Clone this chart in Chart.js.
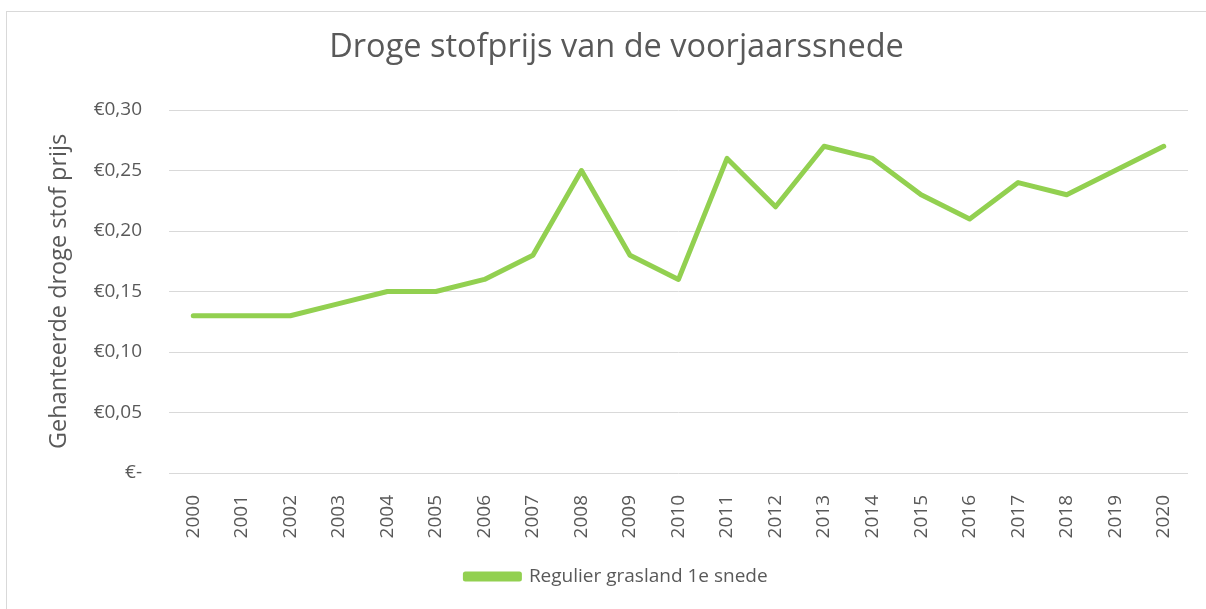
<!DOCTYPE html>
<html>
<head>
<meta charset="utf-8">
<script src="https://cdn.jsdelivr.net/npm/chart.js@4.4.0/dist/chart.umd.min.js"></script>
<style>
  html, body { margin: 0; padding: 0; background: #fff; }
  #frame { position: absolute; left: 6px; top: 11px; width: 1220px; height: 620px; border: 1px solid #d9d9d9; }
  #wrap { position: absolute; left: 0; top: 0; width: 1206px; height: 609px; }
</style>
</head>
<body>
<div id="frame"></div>
<div id="wrap"><canvas id="chart"></canvas></div>
<script>
const years = ["2000","2001","2002","2003","2004","2005","2006","2007","2008","2009","2010",
  "2011","2012","2013","2014","2015","2016","2017","2018","2019","2020"];
const prices = [0.13, 0.13, 0.13, 0.14, 0.15, 0.15, 0.16, 0.18, 0.25, 0.18, 0.16,
  0.26, 0.22, 0.27, 0.26, 0.23, 0.21, 0.24, 0.23, 0.25, 0.27];
const seriesName = "Regulier grasland 1e snede";
const titleText = "Droge stofprijs van de voorjaarssnede";
const yTitle = "Gehanteerde droge stof prijs";

const grey = "#595959";
const green = "#92D050";
const fontFam = "'Open Sans', sans-serif";

const ctx = document.getElementById("chart").getContext("2d");
new Chart(ctx, {
  type: "line",
  data: {
    labels: years,
    datasets: [{
      label: seriesName,
      data: prices,
      borderColor: green,
      backgroundColor: green,
      borderWidth: 5,
      pointRadius: 0,
      tension: 0,
      borderCapStyle: "round",
      borderJoinStyle: "round"
    }]
  },
  options: {
    responsive: true,
    maintainAspectRatio: false,
    animation: false,
    layout: { padding: { left: 45, right: 18, top: 0, bottom: 13 } },
    plugins: {
      title: {
        display: true,
        text: titleText,
        color: grey,
        font: { family: fontFam, size: 32.5, weight: "normal" },
        padding: { top: 28, bottom: 43 }
      },
      legend: {
        position: "bottom",
        labels: {
          color: grey,
          font: { family: fontFam, size: 19 },
          boxWidth: 54,
          boxHeight: 5,
          padding: 10
        }
      },
      tooltip: { enabled: false }
    },
    scales: {
      x: {
        offset: true,
        grid: { display: false },
        border: { display: false },
        ticks: {
          color: grey,
          font: { family: fontFam, size: 19 },
          maxRotation: 90,
          minRotation: 90,
          autoSkip: false,
          padding: 14
        },
        afterFit: (s) => { s.height = 84; }
      },
      y: {
        min: 0,
        max: 0.3,
        grid: { color: "#d9d9d9", lineWidth: 1, drawTicks: false },
        border: { display: false },
        ticks: {
          stepSize: 0.05,
          color: grey,
          font: { family: fontFam, size: 19 },
          padding: 27,
          callback: function (v) {
            const r = Math.round(v * 100) / 100;
            if (r === 0) return "€-";
            return "€" + r.toFixed(2).replace(".", ",");
          }
        },
        title: {
          display: true,
          text: yTitle,
          color: grey,
          font: { family: fontFam, size: 23.5 },
          padding: 0
        },
        afterFit: (s) => { s.width = 169 - 45; }
      }
    }
  }
});
</script>
</body>
</html>
